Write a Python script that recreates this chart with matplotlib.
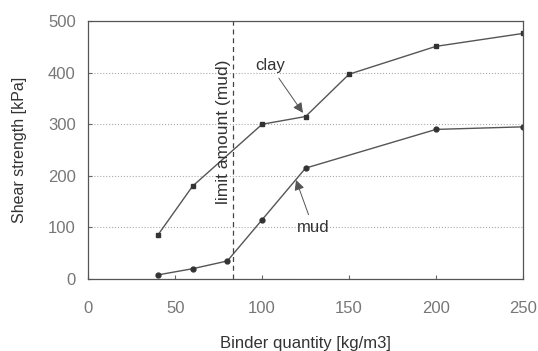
import numpy as np
import matplotlib.pyplot as plt

plt.rcParams['font.family'] = ['Liberation Sans', 'DejaVu Sans']

# binder quantity [kg/m3] and shear strength [kPa]
clay_x = [40, 60, 100, 125, 150, 200, 250]
clay_y = [85, 180, 300, 315, 397, 451, 476]
mud_x = [40, 60, 80, 100, 125, 200, 250]
mud_y = [8, 20, 35, 115, 215, 290, 295]
limit_mud = 83
yticks = [0, 100, 200, 300, 400, 500]
xticks = [0, 50, 100, 150, 200, 250]

fig = plt.figure(figsize=(5.38, 3.51), dpi=100)
ax = fig.add_axes([0.164, 0.205, 0.808, 0.735])

line_col = '#555555'
ax.plot(clay_x, clay_y, color=line_col, lw=1.0, marker='s', ms=3.5, mfc='#333333', mec='#333333')
ax.plot(mud_x, mud_y, color=line_col, lw=1.0, marker='o', ms=3.5, mfc='#333333', mec='#333333')

ax.axvline(limit_mud, color='#444444', lw=0.9, ls=(0, (4, 3)))
ax.text(limit_mud - 0.8, 285, 'limit amount (mud)', rotation=90, ha='right', va='center',
        fontsize=12.5, color='#333333')

ax.annotate('clay', xy=(123.5, 322), xytext=(96, 405), fontsize=12, color='#333333',
            arrowprops=dict(arrowstyle='-|>', color='#555555', lw=0.7, mutation_scale=15,
                            shrinkA=2, shrinkB=0))
ax.annotate('mud', xy=(119.5, 192), xytext=(120, 91), fontsize=12, color='#333333',
            arrowprops=dict(arrowstyle='-|>', color='#555555', lw=0.7, mutation_scale=15,
                            shrinkA=2, shrinkB=0))

ax.set_xlim(0, 250)
ax.set_ylim(0, 500)
ax.set_xticks(xticks)
ax.set_yticks(yticks)
ax.grid(axis='y', color='#aaaaaa', ls=':', lw=0.8)
ax.tick_params(direction='in', length=3, colors='#666666', labelsize=12, labelcolor='#777777')
ax.tick_params(axis='x', pad=16)
ax.tick_params(axis='y', pad=9)
for s in ax.spines.values():
    s.set_color('#555555')
    s.set_linewidth(0.9)

ax.set_xlabel('Binder quantity [kg/m3]', fontsize=12, color='#333333', labelpad=14)
ax.set_ylabel('Shear strength [kPa]', fontsize=11.5, color='#333333', labelpad=15)

fig.savefig('out.png', dpi=100)
